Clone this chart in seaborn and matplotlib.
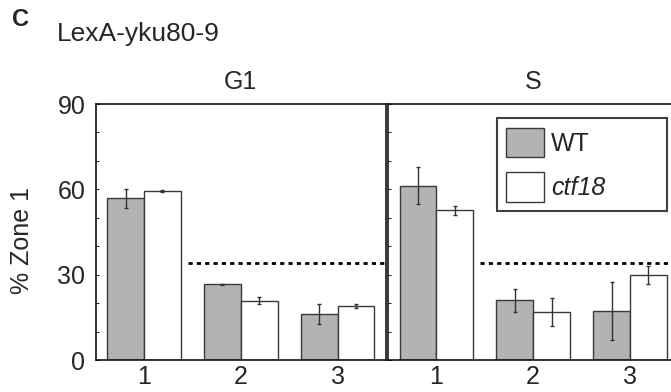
import numpy as np
import pandas as pd
import seaborn as sns
import matplotlib.pyplot as plt

# values
phases = ["G1", "S"]
zones = ["1", "2", "3"]
strains = ["WT", "ctf18"]

g1_wt = [56.8, 26.7, 16.1]
g1_wt_err = [3.5, 0.2, 3.5]
g1_ctf18 = [59.5, 20.9, 19.0]
g1_ctf18_err = [0.4, 1.1, 0.8]

s_wt = [61.3, 21.0, 17.2]
s_wt_err = [6.4, 4.0, 10.2]
s_ctf18 = [52.6, 17.0, 30.0]
s_ctf18_err = [1.7, 4.9, 3.2]

random_level = 34

rows = []
for phase, wt, wte, ct, cte in [("G1", g1_wt, g1_wt_err, g1_ctf18, g1_ctf18_err),
                                ("S", s_wt, s_wt_err, s_ctf18, s_ctf18_err)]:
    for z, v, e in zip(zones, wt, wte):
        rows.append((phase, z, "WT", v, e))
    for z, v, e in zip(zones, ct, cte):
        rows.append((phase, z, "ctf18", v, e))
df = pd.DataFrame(rows, columns=["phase", "zone", "strain", "value", "err"])

sns.set_style("white")
plt.rcParams["font.family"] = ["Liberation Sans", "DejaVu Sans"]

fig = plt.figure(figsize=(6.71, 3.92), dpi=100)
ax_l = fig.add_axes([0.1426, 0.0816, 0.4327, 0.653])
ax_r = fig.add_axes([0.5782, 0.0816, 0.4327, 0.653])

palette = {"WT": "#b3b3b3", "ctf18": "white"}

for ax, phase in zip([ax_l, ax_r], phases):
    sub = df[df.phase == phase]
    sns.barplot(data=sub, x="zone", y="value", hue="strain", order=zones,
                hue_order=strains, palette=palette, edgecolor="#3a3a3a",
                linewidth=1.0, width=0.76, errorbar=None, legend=False, ax=ax)
    for cont, strain in zip(ax.containers, strains):
        part = sub[sub.strain == strain].set_index("zone").loc[zones]
        xs = [p.get_x() + p.get_width() / 2 for p in cont]
        ax.errorbar(xs, part["value"], yerr=part["err"], fmt="none",
                    ecolor="#333333", elinewidth=1.0, capsize=1.6, capthick=1.0)
    ax.set_xlim(-0.5, 2.5)
    ax.set_ylim(0, 90)
    ax.set_yticks([0, 30, 60, 90])
    ax.set_yticks(np.arange(0, 91, 10), minor=True)
    ax.tick_params(axis="y", which="both", direction="in", length=2.5,
                   width=0.8, left=True, right=False, labelsize=18, pad=7.5)
    ax.tick_params(axis="x", length=0, labelsize=18, pad=3.5)
    ax.set_xlabel("")
    ax.set_ylabel("")
    ax.set_title(phase, fontsize=18, pad=11)
    for sp in ax.spines.values():
        sp.set_visible(True)
        sp.set_color("black")
        sp.set_linewidth(1.1)

# dotted reference line; the G1 one runs on across the panel join
ax_l.hlines(random_level, 0.45, 2.54, colors="black", linewidth=2,
            linestyles=(0, (1.5, 1.5)), zorder=3, clip_on=False)
ax_r.hlines(random_level, 0.45, 2.5, colors="black", linewidth=2,
            linestyles=(0, (1.5, 1.5)), zorder=3)

ax_r.tick_params(axis="y", labelleft=False)

handles = [plt.Rectangle((0, 0), 1, 1, facecolor=palette[s], edgecolor="#3a3a3a",
                         linewidth=1.0) for s in strains]
leg = fig.legend(handles, strains, loc="upper left",
                 bbox_to_anchor=(0.740, 0.10, 0.2536, 0.598),
                 mode="expand", borderaxespad=0, fontsize=18,
                 handlelength=1.52, handleheight=1.44, handletextpad=0.28,
                 labelspacing=0.6, borderpad=0.37, fancybox=False, framealpha=1)
leg.get_frame().set_edgecolor("#404040")
leg.get_frame().set_linewidth(1.5)
leg.get_texts()[1].set_fontstyle("italic")

fig.text(21.7 / 671, 1 - 240 / 392, "% Zone 1", rotation=90, fontsize=18,
         ha="center", va="center")
fig.text(57 / 671, 1 - 41 / 392, "LexA-yku80-9", fontsize=19, va="baseline")
fig.text(12 / 671, 1 - 26 / 392, "C", fontsize=17, fontweight="bold", va="baseline")

fig.savefig("out.png", dpi=100)
